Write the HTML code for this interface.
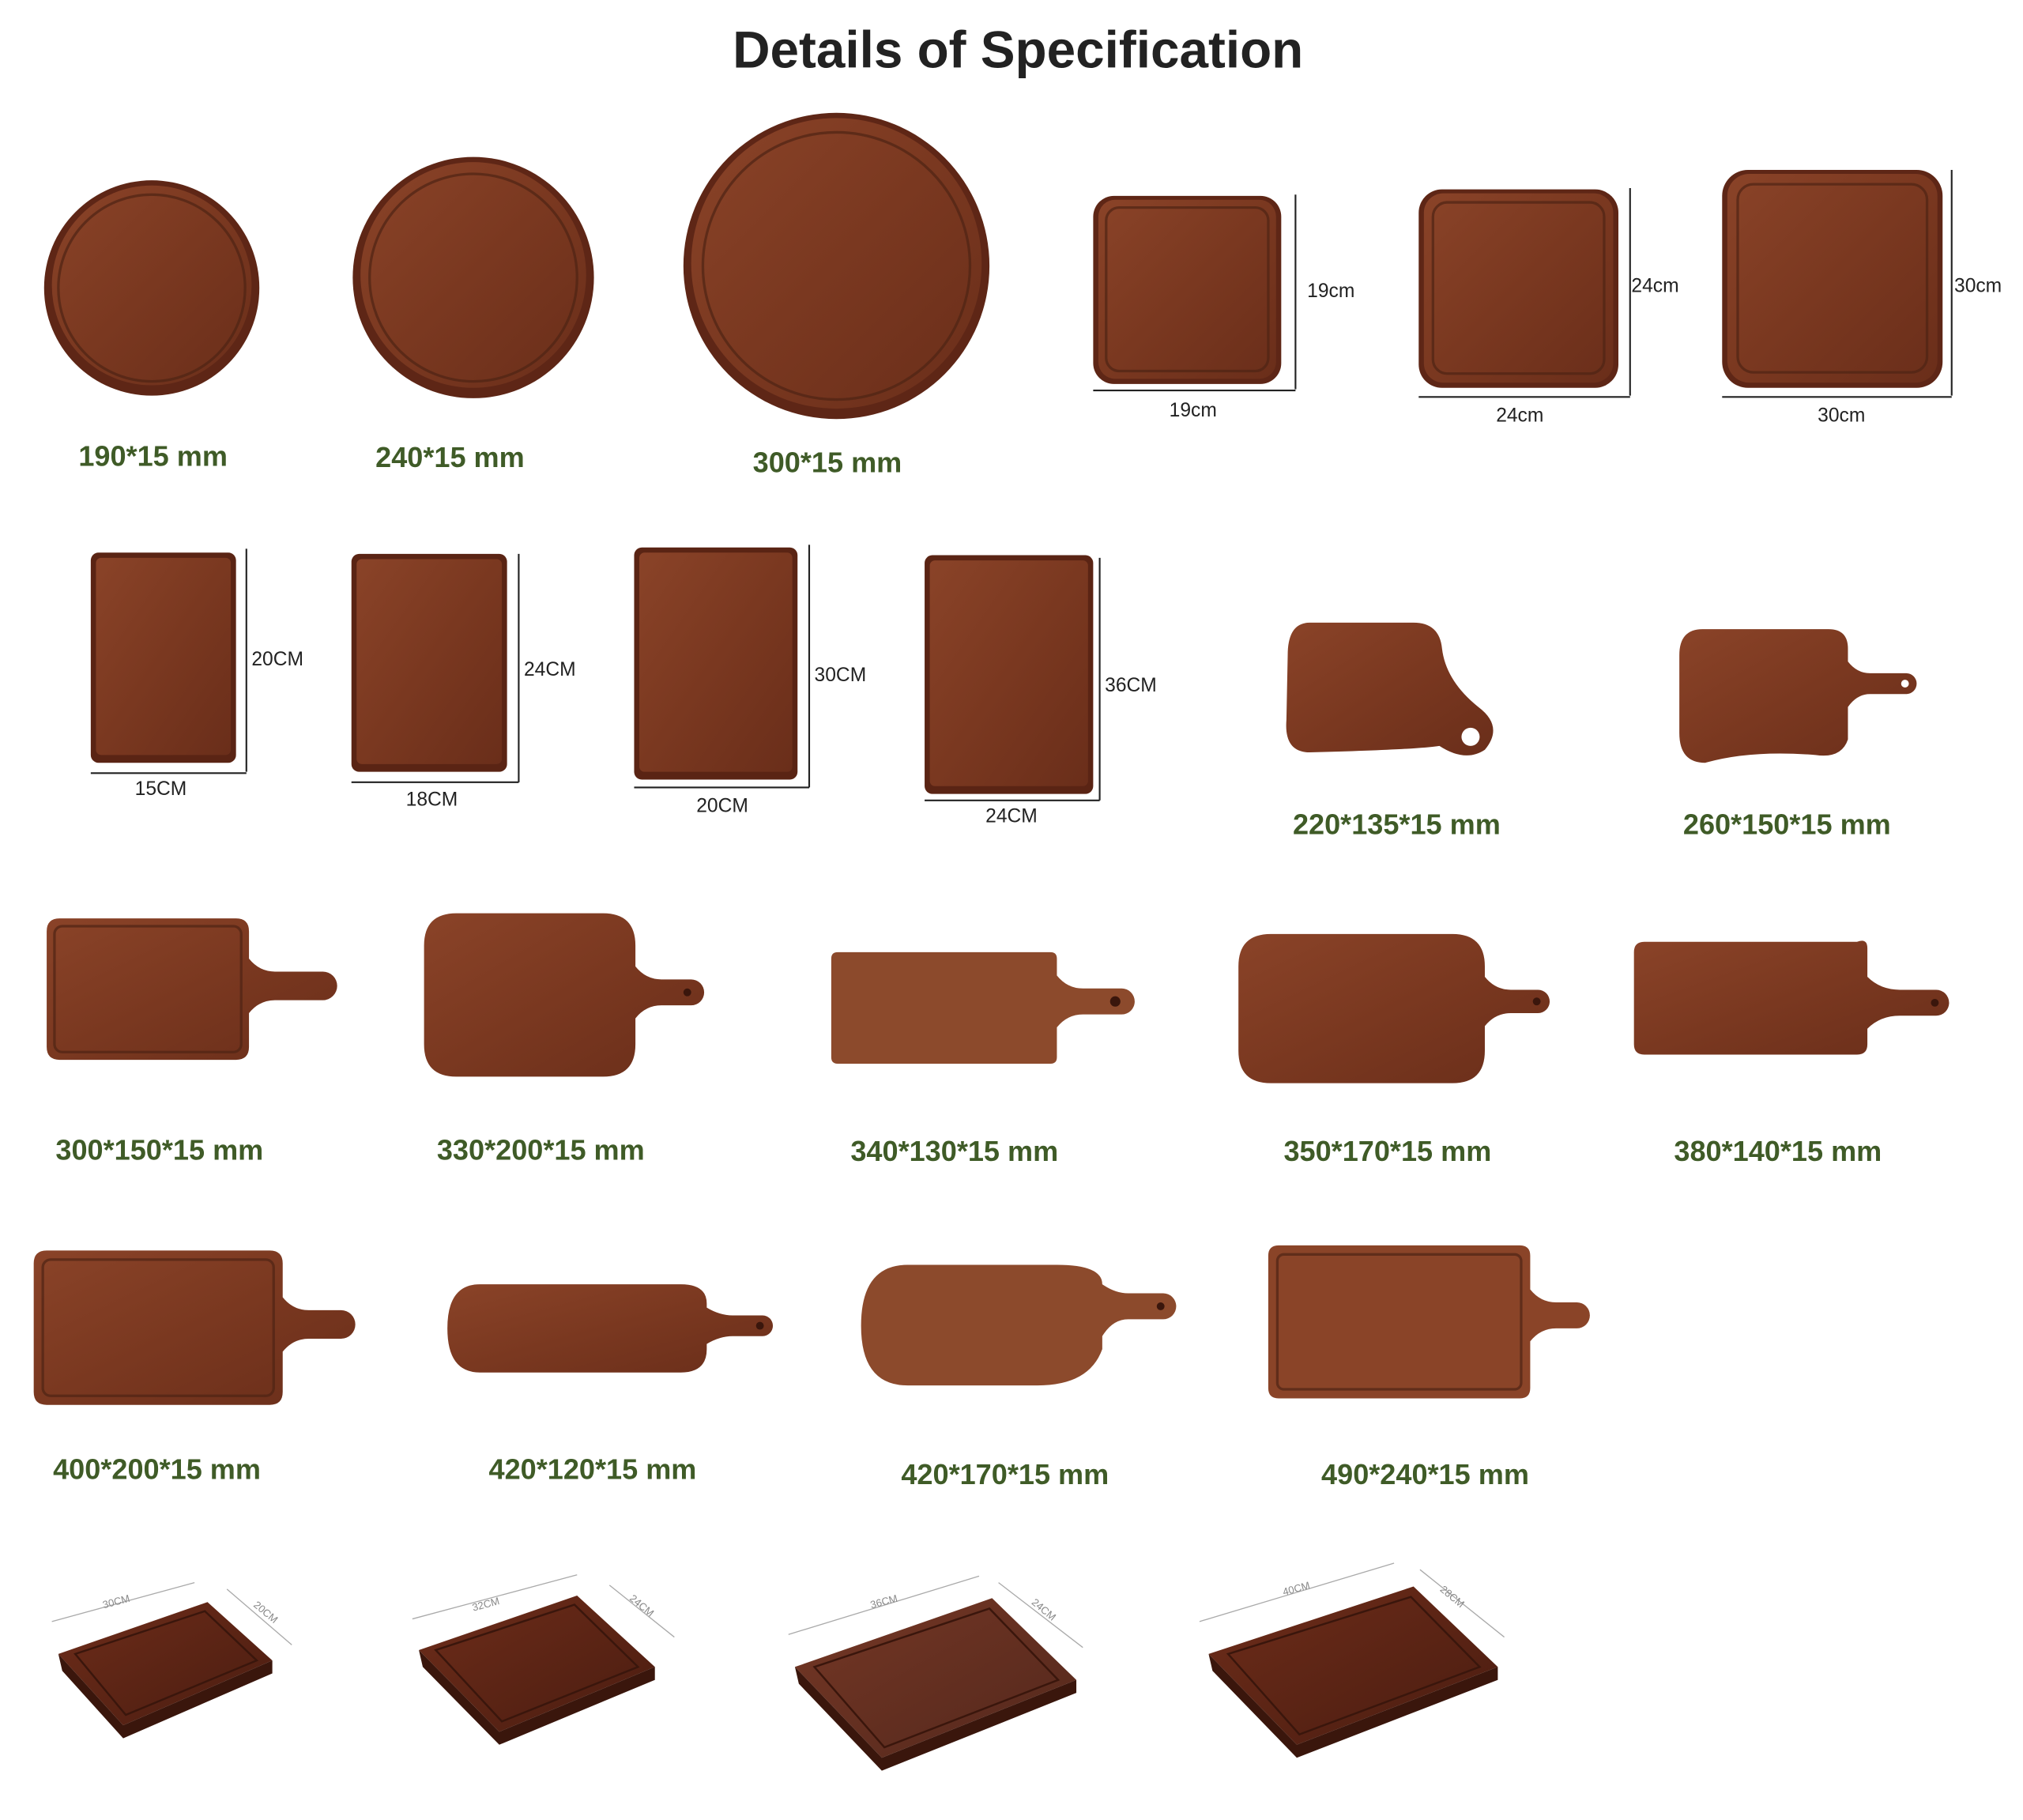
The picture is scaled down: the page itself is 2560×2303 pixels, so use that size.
<!DOCTYPE html>
<html><head><meta charset="utf-8"><style>
html,body{margin:0;padding:0;background:#fff;}
svg{display:block;}
.t{font-family:"Liberation Sans",sans-serif;font-weight:bold;fill:#3f5b27;font-size:22px;text-anchor:middle;}
.d{font-family:"Liberation Sans",sans-serif;fill:#222;font-size:15px;}
.dc{text-anchor:middle;}
.l{stroke:#222;stroke-width:1.3;fill:none;}
.w{fill:url(#wg);}
.g{fill:none;stroke:#4e2314;stroke-width:2;opacity:.7;}
.s{font-family:"Liberation Sans",sans-serif;fill:#888;font-size:8px;}
.sl{stroke:#aaa;stroke-width:.8;fill:none;}
</style></head><body>
<svg width="2560" height="2303" viewBox="0 0 1560 1403" preserveAspectRatio="none" xmlns="http://www.w3.org/2000/svg">
<defs>
<linearGradient id="wg" x1="0" y1="0" x2="1" y2="1">
<stop offset="0" stop-color="#8a4328"/><stop offset="0.5" stop-color="#7a3820"/><stop offset="1" stop-color="#6a2e1a"/>
</linearGradient>
<linearGradient id="dg" x1="0" y1="0" x2="1" y2="1">
<stop offset="0" stop-color="#6e2d1a"/><stop offset="1" stop-color="#4a1c10"/>
</linearGradient>
</defs>
<text x="785" y="52" style="font-family:'Liberation Sans',sans-serif;font-weight:bold;font-size:40px;fill:#222;text-anchor:middle;">Details of Specification</text>

<!-- circles -->
<circle cx="117" cy="222" r="83" fill="#5e2616"/><circle cx="117" cy="220" r="77" class="w"/><circle cx="117" cy="222" r="72" class="g"/>
<circle cx="365" cy="214" r="93" fill="#5e2616"/><circle cx="365" cy="212" r="87" class="w"/><circle cx="365" cy="214" r="80" class="g"/>
<circle cx="645" cy="205" r="118" fill="#5e2616"/><circle cx="645" cy="203" r="112" class="w"/><circle cx="645" cy="205" r="103" class="g"/>
<text class="t" x="118" y="359">190*15 mm</text>
<text class="t" x="347" y="360">240*15 mm</text>
<text class="t" x="638" y="364">300*15 mm</text>

<!-- squares -->
<rect x="843" y="151" width="145" height="145" rx="16" fill="#5e2616"/><rect x="847" y="154" width="137" height="138" rx="13" class="w"/><rect x="853" y="160" width="125" height="126" rx="10" class="g"/>
<path class="l" d="M999 150V300M843 301H999"/><text class="d" x="1008" y="229">19cm</text><text class="d dc" x="920" y="321">19cm</text>
<rect x="1094" y="146" width="154" height="153" rx="18" fill="#5e2616"/><rect x="1098" y="149" width="146" height="146" rx="15" class="w"/><rect x="1105" y="156" width="132" height="132" rx="11" class="g"/>
<path class="l" d="M1257 145V305M1094 306H1257"/><text class="d" x="1258" y="225">24cm</text><text class="d dc" x="1172" y="325">24cm</text>
<rect x="1328" y="131" width="170" height="168" rx="20" fill="#5e2616"/><rect x="1332" y="134" width="162" height="161" rx="17" class="w"/><rect x="1340" y="142" width="146" height="145" rx="12" class="g"/>
<path class="l" d="M1505 131V305M1328 306H1505"/><text class="d" x="1507" y="225">30cm</text><text class="d dc" x="1420" y="325">30cm</text>

<!-- rects -->
<rect x="70" y="426" width="112" height="162" rx="6" fill="#5a2414"/><rect x="74" y="430" width="104" height="152" rx="4" class="w"/>
<path class="l" d="M190 423V595M70 596H190"/><text class="d" x="194" y="513">20CM</text><text class="d dc" x="124" y="613">15CM</text>
<rect x="271" y="427" width="120" height="168" rx="6" fill="#5a2414"/><rect x="275" y="431" width="112" height="158" rx="4" class="w"/>
<path class="l" d="M400 427V603M271 603H400"/><text class="d" x="404" y="521">24CM</text><text class="d dc" x="333" y="621">18CM</text>
<rect x="489" y="422" width="126" height="179" rx="6" fill="#5a2414"/><rect x="493" y="426" width="118" height="169" rx="4" class="w"/>
<path class="l" d="M624 420V607M489 607H624"/><text class="d" x="628" y="525">30CM</text><text class="d dc" x="557" y="626">20CM</text>
<rect x="713" y="428" width="130" height="184" rx="6" fill="#5a2414"/><rect x="717" y="432" width="122" height="174" rx="4" class="w"/>
<path class="l" d="M848 430V617M713 617H848"/><text class="d" x="852" y="533">36CM</text><text class="d dc" x="780" y="634">24CM</text>

<!-- small paddles -->
<path class="w" d="M1010,480 H1090 Q1110,480 1112,500 Q1115,525 1140,545 Q1160,560 1145,578 Q1130,588 1110,575 Q1090,578 1010,580 Q990,580 992,555 L993,505 Q993,480 1010,480Z"/><circle cx="1134" cy="568" r="7" fill="#fff"/>
<path class="w" d="M1313,485 H1410 Q1425,485 1425,500 V510 Q1432,519 1442,519 H1470 A8 8 0 0 1 1470,535 H1442 Q1432,535 1425,545 V570 Q1420,585 1400,582 Q1350,578 1315,588 Q1295,588 1295,565 V505 Q1295,485 1313,485Z"/><circle cx="1469" cy="527" r="3" fill="#fff"/>
<text class="t" x="1077" y="643">220*135*15 mm</text>
<text class="t" x="1378" y="643">260*150*15 mm</text>

<!-- row 3 -->
<path class="w" d="M46,708 H182 Q192,708 192,718 V739 Q200,749 212,749 H249 A11 11 0 0 1 249,771 H212 Q200,771 192,781 V807 Q192,817 182,817 H46 Q36,817 36,807 V718 Q36,708 46,708Z"/><rect x="42" y="714" width="144" height="97" rx="6" class="g"/>
<path class="w" d="M352,704 H465 Q490,704 490,729 V745 Q498,755 510,755 H533 A10 10 0 0 1 533,775 H510 Q498,775 490,785 V805 Q490,830 465,830 H352 Q327,830 327,805 V729 Q327,704 352,704Z"/><circle cx="530" cy="765" r="3" fill="#3a160c"/>
<path class="w" d="M646,734 H810 Q815,734 815,739 V752 Q823,762 835,762 H865 A10 10 0 0 1 865,782 H835 Q823,782 815,792 V815 Q815,820 810,820 H646 Q641,820 641,815 V739 Q641,734 646,734Z" style="fill:#8c4a2c"/><circle cx="860" cy="772" r="4" fill="#3a160c"/>
<path class="w" d="M980,720 H1120 Q1145,720 1145,745 V753 Q1153,763 1165,763 H1186 A9 9 0 0 1 1186,781 H1165 Q1153,781 1145,791 V810 Q1145,835 1120,835 H980 Q955,835 955,810 V745 Q955,720 980,720Z"/><circle cx="1185" cy="772" r="3" fill="#3a160c"/>
<path class="w" d="M1268,726 H1432 Q1440,723 1440,731 V753 Q1450,763 1465,763 H1493 A10 10 0 0 1 1493,783 H1465 Q1450,783 1440,793 V805 Q1440,813 1432,813 H1268 Q1260,813 1260,805 V734 Q1260,726 1268,726Z"/><circle cx="1492" cy="773" r="3" fill="#3a160c"/>
<text class="t" x="123" y="894">300*150*15 mm</text>
<text class="t" x="417" y="894">330*200*15 mm</text>
<text class="t" x="736" y="895">340*130*15 mm</text>
<text class="t" x="1070" y="895">350*170*15 mm</text>
<text class="t" x="1371" y="895">380*140*15 mm</text>

<!-- row 4 -->
<path class="w" d="M36,964 H208 Q218,964 218,974 V1000 Q226,1010 238,1010 H263 A11 11 0 0 1 263,1032 H238 Q226,1032 218,1042 V1073 Q218,1083 208,1083 H36 Q26,1083 26,1073 V974 Q26,964 36,964Z"/><rect x="33" y="971" width="178" height="105" rx="6" class="g"/>
<path class="w" d="M370,990 H525 Q545,990 545,1005 V1008 Q555,1014 565,1014 H588 A8 8 0 0 1 588,1030 H565 Q555,1030 545,1036 V1040 Q545,1058 525,1058 H370 Q345,1058 345,1024 Q345,990 370,990Z"/><circle cx="586" cy="1022" r="3" fill="#3a160c"/>
<path class="w" d="M700,975 H815 Q850,975 850,990 Q860,997 870,997 H897 A10 10 0 0 1 897,1017 H870 Q858,1017 850,1030 V1040 Q840,1068 800,1068 H700 Q664,1068 664,1022 Q664,975 700,975Z" style="fill:#8c4a2c"/><circle cx="895" cy="1007" r="3" fill="#3a160c"/>
<path class="w" d="M986,960 H1172 Q1180,960 1180,968 V994 Q1188,1004 1200,1004 H1216 A10 10 0 0 1 1216,1024 H1200 Q1188,1024 1180,1034 V1070 Q1180,1078 1172,1078 H986 Q978,1078 978,1070 V968 Q978,960 986,960Z" style="fill:#8a4428"/><rect x="985" y="967" width="188" height="104" rx="5" class="g"/>
<text class="t" x="121" y="1140">400*200*15 mm</text>
<text class="t" x="457" y="1140">420*120*15 mm</text>
<text class="t" x="775" y="1144">420*170*15 mm</text>
<text class="t" x="1099" y="1144">490*240*15 mm</text>

<!-- isometric boards -->
<g>
<path d="M45,1275 L160,1235 L210,1280 L95,1330 Z" fill="url(#dg)"/><path d="M45,1275 L95,1330 L95,1340 L48,1288Z M95,1330 L210,1280 L210,1290 L95,1340Z" fill="#3a160c"/>
<path d="M58,1275 L158,1242 L198,1280 L97,1322Z" fill="none" stroke="#3a160c" stroke-width="1.5"/>
<path class="sl" d="M40,1250 L150,1220 M175,1225 L225,1268"/><text class="s" x="80" y="1240" transform="rotate(-15 80 1240)">30CM</text><text class="s" x="195" y="1238" transform="rotate(40 195 1238)">20CM</text>
</g>
<g>
<path d="M323,1272 L445,1230 L505,1285 L385,1335 Z" fill="url(#dg)"/><path d="M323,1272 L385,1335 L385,1345 L326,1285Z M385,1335 L505,1285 L505,1295 L385,1345Z" fill="#3a160c"/>
<path d="M336,1272 L443,1237 L492,1285 L387,1327Z" fill="none" stroke="#3a160c" stroke-width="1.5"/>
<path class="sl" d="M318,1248 L445,1214 M470,1222 L520,1262"/><text class="s" x="365" y="1242" transform="rotate(-15 365 1242)">32CM</text><text class="s" x="485" y="1233" transform="rotate(40 485 1233)">24CM</text>
</g>
<g>
<path d="M613,1285 L765,1232 L830,1295 L680,1355 Z" fill="url(#dg)" style="opacity:.95"/><path d="M613,1285 L680,1355 L680,1365 L616,1298Z M680,1355 L830,1295 L830,1305 L680,1365Z" fill="#3a160c"/>
<path d="M628,1285 L763,1240 L816,1295 L682,1347Z" fill="none" stroke="#3a160c" stroke-width="1.5"/>
<path class="sl" d="M608,1260 L755,1215 M770,1220 L835,1270"/><text class="s" x="672" y="1240" transform="rotate(-15 672 1240)">36CM</text><text class="s" x="795" y="1236" transform="rotate(40 795 1236)">24CM</text>
</g>
<g>
<path d="M932,1275 L1090,1223 L1155,1285 L1000,1345 Z" fill="url(#dg)"/><path d="M932,1275 L1000,1345 L1000,1355 L935,1288Z M1000,1345 L1155,1285 L1155,1295 L1000,1355Z" fill="#3a160c"/>
<path d="M947,1275 L1088,1231 L1141,1285 L1002,1337Z" fill="none" stroke="#3a160c" stroke-width="1.5"/>
<path class="sl" d="M925,1250 L1075,1205 M1095,1210 L1160,1262"/><text class="s" x="990" y="1230" transform="rotate(-15 990 1230)">40CM</text><text class="s" x="1110" y="1226" transform="rotate(40 1110 1226)">28CM</text>
</g>
</svg>
</body></html>
